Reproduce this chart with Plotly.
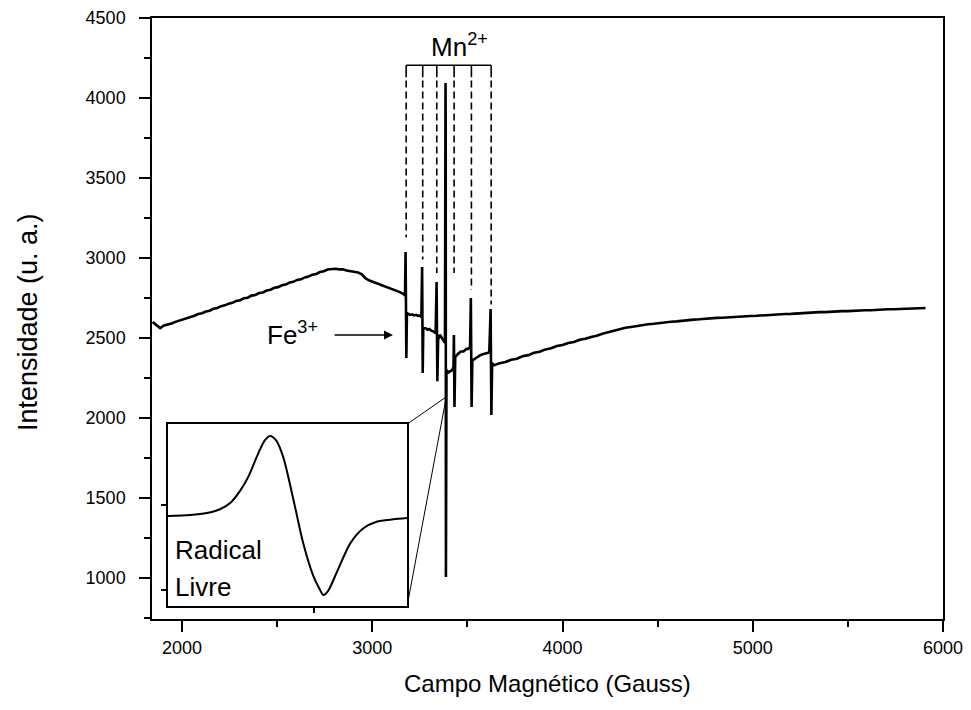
import plotly.graph_objects as go

# ---------------- data ----------------
# low-field baseline (Gauss, a.u.)
field_low = [1845, 1865, 1885, 1905, 1925, 1945, 1965, 1985, 2005, 2025, 2045, 2065, 2085, 2105,
             2125, 2145, 2165, 2185, 2205, 2225, 2245, 2265, 2285, 2305, 2325, 2345, 2365, 2385,
             2405, 2425, 2445, 2465, 2485, 2505, 2525, 2545, 2565, 2585, 2605, 2625, 2645, 2665,
             2685, 2705, 2725, 2745, 2765, 2785, 2805, 2825, 2845, 2865, 2885, 2905, 2925, 2945,
             2965, 2985, 3005, 3025, 3045, 3065, 3085, 3105, 3125, 3145, 3165]
int_low = [2600, 2582, 2562, 2578, 2584, 2591, 2601, 2608, 2617, 2622, 2633, 2639, 2650, 2655,
           2666, 2671, 2683, 2688, 2699, 2704, 2715, 2720, 2732, 2736, 2748, 2752, 2765, 2769,
           2781, 2785, 2797, 2802, 2814, 2818, 2830, 2834, 2847, 2851, 2863, 2867, 2879, 2884,
           2896, 2900, 2912, 2917, 2928, 2930, 2933, 2929, 2930, 2922, 2919, 2913, 2909, 2898,
           2872, 2859, 2850, 2841, 2833, 2823, 2815, 2805, 2799, 2787, 2774]

# Mn2+ / Fe3+ / free-radical region
field_mid = [3172, 3175, 3177, 3179, 3182, 3190, 3200, 3210, 3220, 3230, 3240, 3250, 3258,
             3262, 3265, 3268, 3280, 3290, 3300, 3310, 3320, 3333,
             3338, 3342, 3346, 3355, 3365, 3375, 3382,
             3385, 3386, 3387, 3388, 3390,
             3400, 3410, 3420, 3427,
             3429, 3432, 3436, 3450, 3465, 3480, 3495, 3505, 3514,
             3518, 3522, 3526, 3540, 3555, 3570, 3585, 3600, 3615,
             3622, 3626, 3630]
int_mid = [2765, 3037, 2720, 2375, 2655, 2650, 2644, 2647, 2641, 2645, 2639, 2641, 2630,
           2944, 2281, 2566, 2562, 2552, 2556, 2546, 2542, 2530,
           2850, 2230, 2490, 2520, 2500, 2480, 2470,
           4094, 3830, 1006, 1300, 2300,
           2285, 2295, 2300, 2320,
           2519, 2069, 2380, 2400, 2416, 2416, 2432, 2432, 2444,
           2750, 2069, 2360, 2372, 2384, 2394, 2400, 2406, 2410,
           2681, 2019, 2344]

# high-field baseline
field_high = [3640, 3670, 3700, 3730, 3760, 3790, 3820, 3850, 3880, 3910, 3940, 3970, 4000, 4030,
              4060, 4090, 4120, 4150, 4180, 4210, 4240, 4270, 4300, 4330, 4360, 4390, 4420, 4450,
              4480, 4510, 4540, 4570, 4600, 4630, 4660, 4690, 4720, 4750, 4780, 4810, 4840, 4870,
              4900, 4930, 4960, 4990, 5020, 5050, 5080, 5110, 5140, 5170, 5200, 5230, 5260, 5290,
              5320, 5350, 5380, 5410, 5440, 5470, 5500, 5530, 5560, 5590, 5620, 5650, 5680, 5710,
              5740, 5770, 5800, 5830, 5860, 5890, 5908]
int_high = [2330, 2343, 2350, 2364, 2371, 2386, 2393, 2408, 2414, 2429, 2436, 2450, 2456, 2469,
            2475, 2489, 2495, 2507, 2514, 2527, 2536, 2547, 2554, 2564, 2569, 2576, 2580, 2586,
            2589, 2594, 2597, 2602, 2604, 2609, 2611, 2615, 2617, 2621, 2622, 2626, 2627, 2630,
            2631, 2634, 2635, 2638, 2639, 2642, 2643, 2646, 2647, 2650, 2651, 2654, 2655, 2658,
            2659, 2662, 2662, 2665, 2665, 2668, 2668, 2671, 2671, 2674, 2674, 2677, 2677, 2680,
            2680, 2682, 2682, 2685, 2685, 2687, 2688]

field = field_low + field_mid + field_high
intensity = int_low + int_mid + int_high

# free-radical signal shown enlarged in the inset (relative units)
inset_field = [3365.5, 3369.2, 3372.0, 3374.2, 3376.0, 3377.5, 3379.0, 3380.5, 3381.7, 3382.6,
               3383.6, 3384.8, 3386.5, 3388.1, 3389.8, 3390.8, 3391.5, 3392.3, 3393.7, 3396.0,
               3398.2, 3400.4, 3403.2, 3405.5]
inset_intensity = [871, 882, 905, 950, 1030, 1160, 1340, 1590, 1760, 1812,
                   1760, 1560, 1060, 560, 170, 20, -59, -10, 200, 549,
                   726, 804, 832, 847]

# Mn2+ hyperfine sextet markers
mn_lines = [3178, 3265, 3339, 3430, 3521, 3625]
mn_dash_end = [3130, 2990, 2906, 2906, 2800, 2710]
bracket_y = 4205
bracket_tick_y = 4130
dash_top = 4110

# zoom connector lines (main-axis units): inset corner -> radical line
conn_x = [3183, 3390, None, 3183, 3388]
conn_y = [1962, 2133, None, 825, 2125]

x_range = [1842, 6000]
y_range = [744, 4500]

FONT = "Liberation Sans, Arial, sans-serif"

fig = go.Figure()

fig.add_trace(go.Scatter(x=field, y=intensity, mode="lines",
                         line=dict(color="black", width=2.6), xaxis="x", yaxis="y",
                         showlegend=False, hoverinfo="skip"))

for xv, ye in zip(mn_lines, mn_dash_end):
    fig.add_trace(go.Scatter(x=[xv, xv], y=[dash_top, ye], mode="lines",
                             line=dict(color="black", width=1.6, dash="7px,4px"),
                             showlegend=False, hoverinfo="skip"))

bx, by = [mn_lines[0], mn_lines[-1], None], [bracket_y, bracket_y, None]
for xv in mn_lines:
    bx += [xv, xv, None]
    by += [bracket_y, bracket_tick_y, None]
fig.add_trace(go.Scatter(x=bx, y=by, mode="lines", line=dict(color="black", width=1.6),
                         showlegend=False, hoverinfo="skip"))

fig.add_trace(go.Scatter(x=conn_x, y=conn_y, mode="lines", line=dict(color="black", width=1),
                         showlegend=False, hoverinfo="skip"))

fig.add_trace(go.Scatter(x=inset_field, y=inset_intensity, mode="lines",
                         line=dict(color="black", width=2, shape="spline", smoothing=0.8),
                         xaxis="x2", yaxis="y2", showlegend=False, hoverinfo="skip"))

axis_common = dict(showline=True, linecolor="black", linewidth=1.5, mirror=True,
                   ticks="outside", tickcolor="black", tickwidth=1.5, showgrid=False,
                   zeroline=False, automargin=False)

# the page body adds an 8 px offset, so the figure is 8 px smaller than the window
fig.update_layout(
    width=963, height=702,
    margin=dict(l=144, r=28, t=10, b=91),
    paper_bgcolor="white", plot_bgcolor="white",
    font=dict(family=FONT, color="black"),
    xaxis=dict(range=x_range, domain=[0, 1], anchor="y", tick0=0, dtick=1000,
               ticklen=11, minor=dict(ticks="outside", ticklen=6, dtick=500, tickcolor="black",
                                      tickwidth=1.5),
               tickfont=dict(size=18, family=FONT), ticklabelstandoff=1,
               **axis_common),
    yaxis=dict(range=y_range, domain=[0, 1], anchor="x", tick0=0, dtick=500,
               ticklen=11, minor=dict(ticks="outside", ticklen=6, dtick=250, tickcolor="black",
                                      tickwidth=1.5),
               tickfont=dict(size=18, family=FONT), ticklabelstandoff=10,
               **axis_common),
    xaxis2=dict(range=[3365.5, 3405.5], domain=[0.0202, 0.3224], anchor="y2",
                tickvals=[3390], ticklen=5, showticklabels=False,
                **axis_common),
    yaxis2=dict(range=[-188, 1953], domain=[0.0216, 0.3245], anchor="x2",
                tickvals=[0, 1000], ticklen=5, showticklabels=False,
                **axis_common),
)

# axis titles
fig.add_annotation(x=0.5, y=-0.1065, xref="paper", yref="paper",
                   text="Campo Magnético (Gauss)", showarrow=False,
                   xanchor="center", yanchor="middle", font=dict(size=24, family=FONT))
fig.add_annotation(x=-0.1568, y=0.494, xref="paper", yref="paper",
                   text="Intensidade (u. a.)", showarrow=False, textangle=-90,
                   xanchor="center", yanchor="middle", font=dict(size=27, family=FONT))

fig.add_annotation(x=3457, y=4330, xref="x", yref="y", text="Mn<sup>2+</sup>",
                   showarrow=False, font=dict(size=26, family=FONT))
fig.add_annotation(x=2726, y=2531, xref="x", yref="y", text="Fe<sup>3+</sup>",
                   xanchor="right", yanchor="middle",
                   showarrow=False, font=dict(size=26, family=FONT))
fig.add_annotation(x=3109, y=2519, ax=2794, ay=2519, xref="x", yref="y", axref="x", ayref="y",
                   text="", showarrow=True, arrowhead=2, arrowsize=1.2, arrowwidth=1.5,
                   arrowcolor="black")
fig.add_annotation(x=3366.3, y=470, xref="x2", yref="y2", text="Radical", xanchor="left",
                   yanchor="middle", showarrow=False, font=dict(size=26, family=FONT))
fig.add_annotation(x=3366.3, y=40, xref="x2", yref="y2", text="Livre", xanchor="left",
                   yanchor="middle", showarrow=False, font=dict(size=26, family=FONT))

fig.write_html("out.html")
